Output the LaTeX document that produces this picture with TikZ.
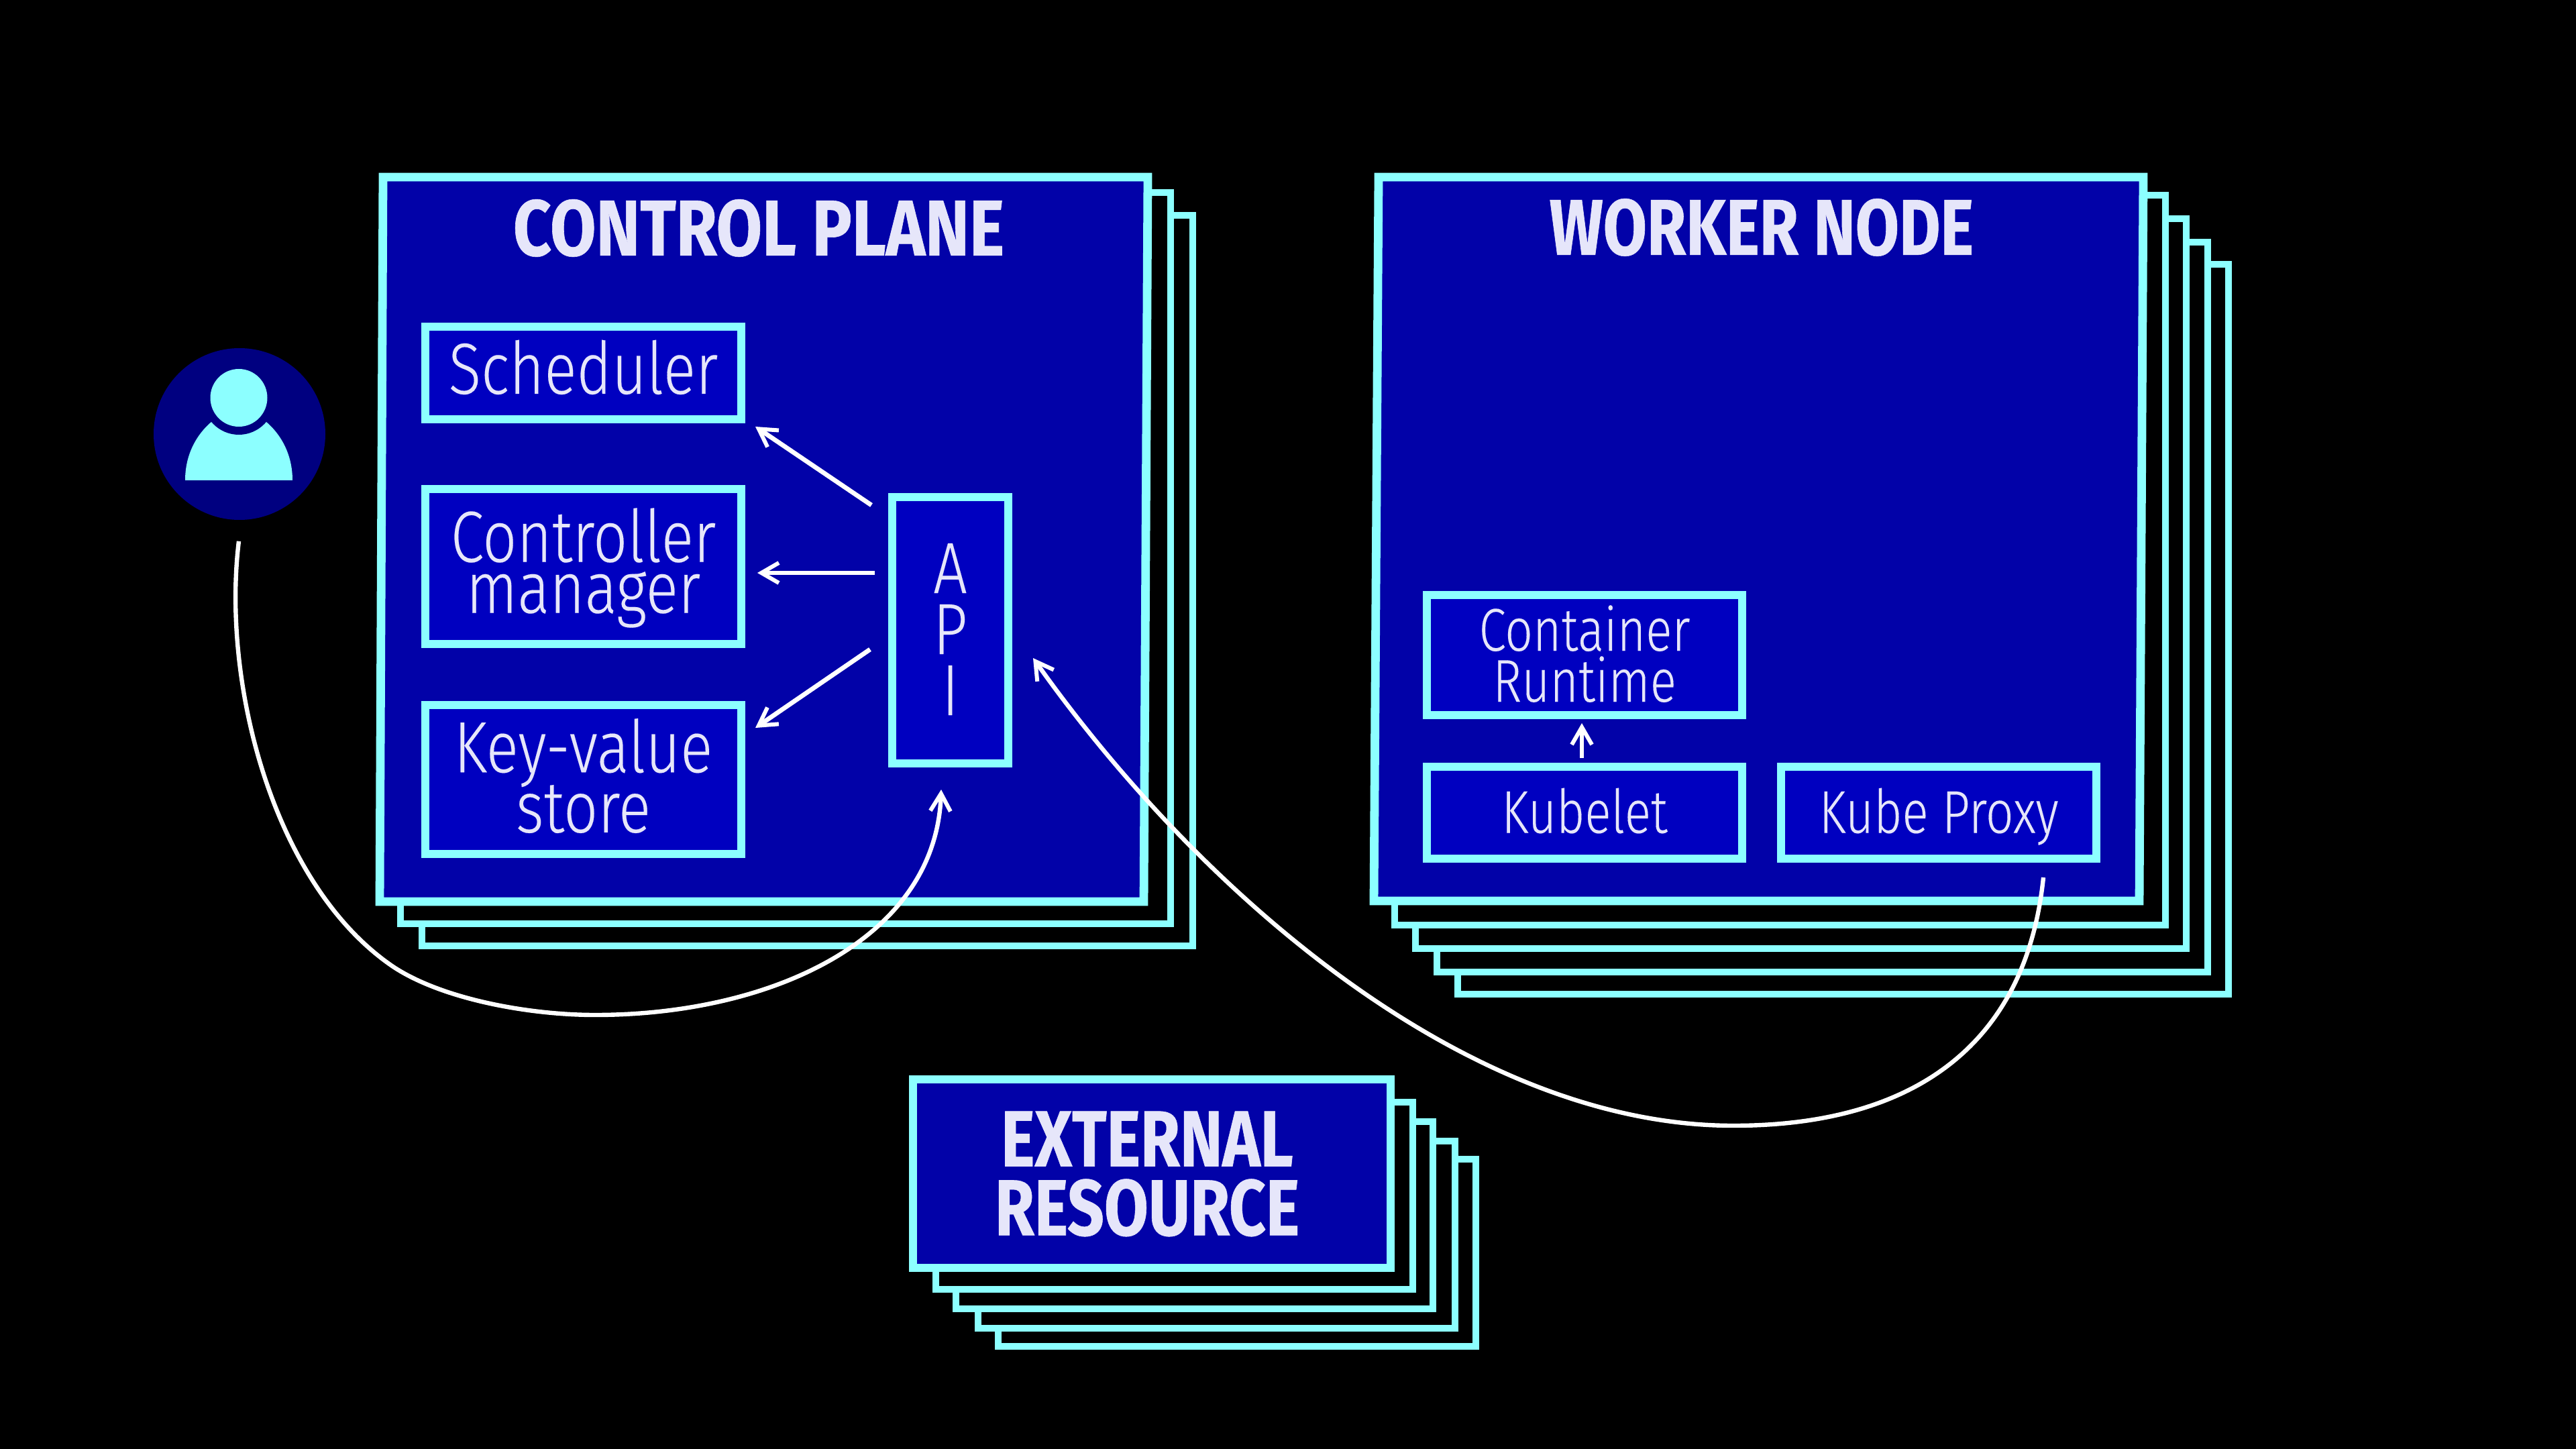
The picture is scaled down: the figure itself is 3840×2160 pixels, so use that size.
\documentclass[tikz,border=0pt]{standalone}
\usepackage{fontspec}
\usetikzlibrary{arrows.meta}
\newfontfamily\labfont[FakeStretch=0.83,FakeBold=0.15]{Fira Sans Light}
\newfontfamily\smallfont[FakeStretch=0.81,FakeBold=0.15]{Fira Sans Light}
\newfontfamily\titfont[FakeStretch=0.81,FakeBold=0.5]{Fira Sans Bold}
\newfontfamily\wktitfont[FakeStretch=0.80,FakeBold=0.5]{Fira Sans Bold}
\newfontfamily\cptitfont[FakeStretch=0.84,FakeBold=0.5]{Fira Sans Bold}
\newcommand{\bline}[2]{\rule{0pt}{#1}\smash{#2}}
\newcommand{\sline}[1]{\smash{#1}}
\definecolor{rim}{HTML}{8CFFFF}
\definecolor{panelblue}{HTML}{0202A8}
\definecolor{boxblue}{HTML}{0000C0}
\definecolor{navycirc}{HTML}{000080}
\definecolor{txt}{HTML}{E6E6FA}
\tikzset{
  layer/.style={draw=rim,fill=black,line width=2.7pt},
  frontpanel/.style={draw=rim,fill=panelblue,line width=3.2pt},
  compbox/.style={draw=rim,fill=boxblue,line width=3pt,text=txt,align=center,inner sep=0pt},
  title/.style={text=txt,align=center,inner sep=0pt},
  link/.style={draw=white,line width=1.7pt,-{Straight Barb[length=6.5pt,width=7.5pt,line width=1.5pt]}},
  curvelink/.style={draw=white,line width=1.6pt,-{Straight Barb[length=6.5pt,width=7.5pt,line width=1.5pt]}}
}
\begin{document}
\begin{tikzpicture}[x=0.25pt,y=-0.25pt]
\fill[black] (0,0) rectangle (3840,2160);
\useasboundingbox (0,0) rectangle (3840,2160);
% control plane stack
\draw[layer] (629,321) rectangle (1778,1410);
\draw[layer] (597,287) rectangle (1745,1377);
\draw[frontpanel] (571,264) -- (1711,264) -- (1705,1344) -- (566,1344) -- cycle;
\node[title,font=\cptitfont\fontsize{29.5}{32}\selectfont] (cptitle) at (1131,340) {CONTROL PLANE};
% worker stack
\draw[layer] (2173,394) rectangle (3322,1482);
\draw[layer] (2142,361) rectangle (3291,1449);
\draw[layer] (2110,326) rectangle (3259,1414);
\draw[layer] (2079,291) rectangle (3228,1379);
\draw[frontpanel] (2055,264) -- (3195,264) -- (3189,1343) -- (2048,1343) -- cycle;
\node[title,font=\wktitfont\fontsize{29.5}{32}\selectfont] (wntitle) at (2626,339) {WORKER NODE};
% external stack
\draw[layer] (1488,1728) rectangle (2200,2007);
\draw[layer] (1458,1701) rectangle (2169,1980);
\draw[layer] (1425,1672) rectangle (2136,1951);
\draw[layer] (1395,1643) rectangle (2106,1922);
\draw[frontpanel] (1361,1609) rectangle (2073,1890);
\node[title,font=\titfont\fontsize{29.5}{25.7}\selectfont] (extitle) at (1710,1750) {EXTERNAL\\RESOURCE};
% control boxes
\node[compbox,minimum width=117.75pt,minimum height=34.5pt,font=\labfont\fontsize{27}{19}\selectfont] (sched) at (869.5,556) {\bline{15.5pt}{Scheduler}};
\node[compbox,minimum width=117.75pt,minimum height=57.75pt,font=\labfont\fontsize{27}{19}\selectfont] (ctrl) at (869.5,844.5) {\bline{15.5pt}{Controller}\\\sline{manager}};
\node[compbox,minimum width=117.75pt,minimum height=55.5pt,font=\labfont\fontsize{27}{22.4}\selectfont] (kv) at (869.5,1162) {\bline{17pt}{Key-value}\\\sline{store}};
\node[compbox,minimum width=43.25pt,minimum height=99.25pt,font=\labfont\fontsize{27}{22.75}\selectfont] (api) at (1416.5,939.5) {\bline{17.75pt}{A}\\\sline{P}\\\sline{I}};
% worker boxes
\node[compbox,minimum width=117.5pt,minimum height=44.75pt,font=\smallfont\fontsize{22.5}{19}\selectfont] (runtime) at (2362,976.5) {\bline{15.75pt}{Container}\\\sline{Runtime}};
\node[compbox,minimum width=117.5pt,minimum height=34.25pt,font=\smallfont\fontsize{22.5}{19}\selectfont] (kubelet) at (2362,1211.5) {\bline{15pt}{Kubelet}};
\node[compbox,minimum width=117.5pt,minimum height=34.25pt,font=\smallfont\fontsize{22.5}{19}\selectfont] (proxy) at (2890,1211.5) {\bline{15pt}{Kube Proxy}};
% person
\node[circle,fill=navycirc,minimum size=64pt,inner sep=0pt] (person) at (357,647) {};
\fill[rim] (276,716) .. controls (276,670) and (300,640) .. (320,625) -- (392,625) .. controls (412,640) and (436,670) .. (436,716) -- cycle;
\fill[navycirc] (356,593) ellipse (54 and 55);
\fill[rim] (356,593) ellipse (42.5 and 43);
% connectors
\draw[link] ([shift={(-25,18)}]api.north west) -- ([shift={(15,5)}]sched.south east);
\draw[link] ([shift={(-20,-85.5)}]api.west) -- ([shift={(18,9.5)}]ctrl.east);
\draw[link] ([shift={(-27,28.5)}]api.west) -- ([shift={(15,40)}]kv.north east);
\draw[link] ([shift={(-4,-7)}]kubelet.north) -- ([shift={(-4,6)}]runtime.south);
\draw[curvelink] ([shift={(-1,31)}]person.south) .. controls (330,1020) and (408,1320) .. (586,1441) .. controls (660,1490) and (790,1513) .. (887,1513) .. controls (1150,1513) and (1395,1400) .. ([shift={(-13.5,33)}]api.south);
\draw[curvelink] ([shift={(156,22)}]proxy.south) .. controls (3020,1560) and (2850,1678) .. (2584,1678) .. controls (2180,1678) and (1780,1320) .. ([shift={(31,41.5)}]api.east);
\end{tikzpicture}
\end{document}
